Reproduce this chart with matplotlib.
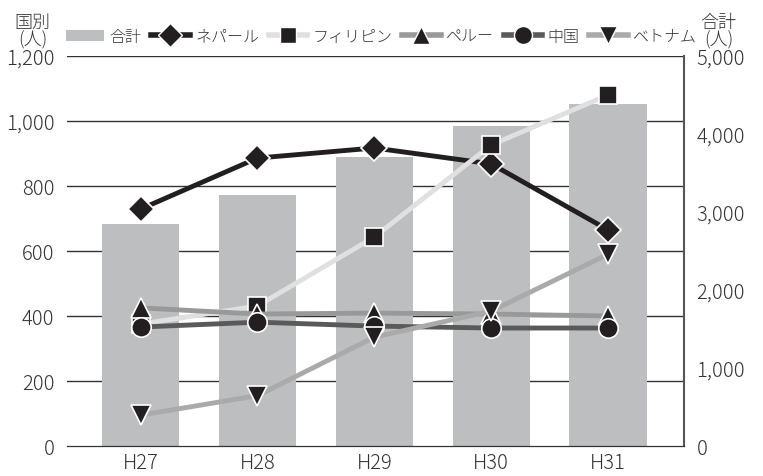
import matplotlib
matplotlib.use('Agg')
import matplotlib.pyplot as plt
import numpy as np
from matplotlib.lines import Line2D
from matplotlib.patches import Patch

plt.rcParams['font.family'] = ['Noto Sans CJK JP', 'DejaVu Sans']
plt.rcParams['font.weight'] = 'light'

years = ['H27', 'H28', 'H29', 'H30', 'H31']
total = [2846, 3218, 3705, 4103, 4385]
nepal = [729, 886, 917, 868, 665]
philippines = [375, 431, 643, 926, 1080]
peru = [425, 406, 409, 406, 400]
china = [366, 381, 369, 363, 363]
vietnam = [95, 155, 335, 415, 590]

series = [
    ('ネパール', nepal, '#231f20', 'D', 13, 3.5),
    ('フィリピン', philippines, '#e0e0e0', 's', 13, 3.5),
    ('ペルー', peru, '#999999', '^', 14, 3.5),
    ('中国', china, '#5a5a5a', 'o', 14, 3.5),
    ('ベトナム', vietnam, '#aaaaaa', 'v', 14, 3.5),
]

fig = plt.figure(figsize=(7.63, 4.77), dpi=100)
ax = fig.add_axes([67 / 763, 30 / 477, 617 / 763, 390 / 477])
ax2 = ax.twinx()

x = np.arange(len(years))
ax2.bar(x, total, width=0.66, color='#bcbec0', zorder=1)
ax2.set_ylim(0, 5000)
ax2.set_yticks(np.arange(0, 5001, 1000))
ax2.set_yticklabels([f'{v:,}' for v in range(0, 5001, 1000)])

# lines drawn on the front axes, bars behind
ax.set_zorder(ax2.get_zorder() + 1)
ax.patch.set_visible(False)
for label, vals, color, marker, ms, lw in series:
    ax.plot(x, vals, color=color, lw=lw, marker=marker, markersize=ms,
            markerfacecolor='#231f20', markeredgecolor='white',
            markeredgewidth=1.2, zorder=3)

ax.set_ylim(0, 1200)
ax.set_xlim(-0.63, 4.65)
ax.set_yticks(np.arange(0, 1201, 200))
ax.set_yticklabels([f'{v:,}' for v in range(0, 1201, 200)])
ax.set_xticks(x)
ax.set_xticklabels(years)
for v in range(200, 1201, 200):
    ax2.axhline(v * 5000 / 1200, color='#333333', lw=1, zorder=0.5)

for a in (ax, ax2):
    a.spines['top'].set_visible(False)
    a.spines['left'].set_visible(False)
    a.spines['right'].set_visible(False)
    a.tick_params(length=0, labelsize=14.5, colors='#333333')
ax2.spines['right'].set_visible(True)
ax2.spines['right'].set_color('#555555')
ax2.spines['right'].set_linewidth(1.5)
ax.spines['bottom'].set_color('#333333')
ax.tick_params(axis='y', pad=9)
ax2.tick_params(axis='y', pad=9)
ax.tick_params(axis='x', pad=4)

fig.text(0.043, 0.934, '国別\n(人)', ha='center', va='center', fontsize=13,
         color='#333333', linespacing=0.95)
fig.text(0.942, 0.934, '合計\n(人)', ha='center', va='center', fontsize=13,
         color='#333333', linespacing=0.95)

handles = [Patch(facecolor='#bcbec0', edgecolor='none', label='合計')]
for label, vals, color, marker, ms, lw in series:
    handles.append(Line2D([], [], color=color, lw=4, marker=marker,
                          markersize=ms - 1, markerfacecolor='#231f20',
                          markeredgecolor='white', label=label))
fig.legend(handles=handles, loc='center left', bbox_to_anchor=(0.082, 0.922),
           ncol=6, frameon=False, fontsize=11.5, handlelength=2.4,
           handletextpad=0.35, columnspacing=0.6, borderpad=0.2,
           borderaxespad=0, labelcolor='#333333')

fig.savefig('out.png', dpi=100)
